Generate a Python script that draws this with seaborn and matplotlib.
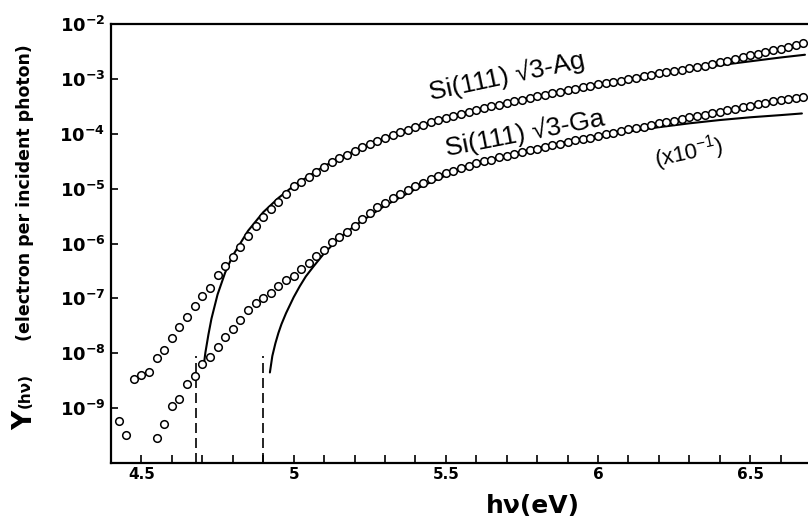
import numpy as np
import pandas as pd
import matplotlib
matplotlib.use("Agg")
import matplotlib.pyplot as plt
from matplotlib.ticker import FixedLocator, MultipleLocator, NullFormatter
import seaborn as sns

# photon energy grid of the measurements (eV)
ag_energy = [4.425, 4.45, 4.475, 4.5, 4.525, 4.55, 4.575, 4.6, 4.625, 4.65,
             4.675, 4.7, 4.725, 4.75, 4.775, 4.8, 4.825, 4.85, 4.875, 4.9,
             4.925, 4.95, 4.975, 5.0, 5.025, 5.05, 5.075, 5.1, 5.125, 5.15,
             5.175, 5.2, 5.225, 5.25, 5.275, 5.3, 5.325, 5.35, 5.375, 5.4,
             5.425, 5.45, 5.475, 5.5, 5.525, 5.55, 5.575, 5.6, 5.625, 5.65,
             5.675, 5.7, 5.725, 5.75, 5.775, 5.8, 5.825, 5.85, 5.875, 5.9,
             5.925, 5.95, 5.975, 6.0, 6.025, 6.05, 6.075, 6.1, 6.125, 6.15,
             6.175, 6.2, 6.225, 6.25, 6.275, 6.3, 6.325, 6.35, 6.375, 6.4,
             6.425, 6.45, 6.475, 6.5, 6.525, 6.55, 6.575, 6.6, 6.625, 6.65,
             6.675]
# log10 of yield, Si(111)√3-Ag
ag_log_yield = [-9.23, -9.49, -8.47, -8.40, -8.34, -8.08, -7.94, -7.72, -7.52, -7.34,
                -7.14, -6.95, -6.81, -6.58, -6.41, -6.24, -6.07, -5.87, -5.68, -5.52,
                -5.37, -5.25, -5.10, -4.96, -4.88, -4.78, -4.69, -4.60, -4.52, -4.45,
                -4.38, -4.31, -4.25, -4.19, -4.13, -4.08, -4.02, -3.97, -3.93, -3.88,
                -3.84, -3.79, -3.75, -3.71, -3.67, -3.64, -3.60, -3.57, -3.53, -3.50,
                -3.47, -3.44, -3.41, -3.38, -3.35, -3.32, -3.29, -3.26, -3.23, -3.21,
                -3.18, -3.15, -3.13, -3.10, -3.08, -3.05, -3.03, -3.00, -2.98, -2.95,
                -2.93, -2.90, -2.88, -2.86, -2.83, -2.81, -2.78, -2.76, -2.73, -2.70,
                -2.67, -2.64, -2.61, -2.57, -2.54, -2.51, -2.48, -2.45, -2.42, -2.38,
                -2.35]

ga_energy = [4.55, 4.575, 4.6, 4.625, 4.65, 4.675, 4.7, 4.725, 4.75, 4.775,
             4.8, 4.825, 4.85, 4.875, 4.9, 4.925, 4.95, 4.975, 5.0, 5.025,
             5.05, 5.075, 5.1, 5.125, 5.15, 5.175, 5.2, 5.225, 5.25, 5.275,
             5.3, 5.325, 5.35, 5.375, 5.4, 5.425, 5.45, 5.475, 5.5, 5.525,
             5.55, 5.575, 5.6, 5.625, 5.65, 5.675, 5.7, 5.725, 5.75, 5.775,
             5.8, 5.825, 5.85, 5.875, 5.9, 5.925, 5.95, 5.975, 6.0, 6.025,
             6.05, 6.075, 6.1, 6.125, 6.15, 6.175, 6.2, 6.225, 6.25, 6.275,
             6.3, 6.325, 6.35, 6.375, 6.4, 6.425, 6.45, 6.475, 6.5, 6.525,
             6.55, 6.575, 6.6, 6.625, 6.65, 6.675]
# log10 of yield, Si(111)√3-Ga (plotted x10^-1)
ga_log_yield = [-9.55, -9.29, -8.96, -8.83, -8.56, -8.42, -8.20, -8.06, -7.88, -7.70,
                -7.56, -7.39, -7.22, -7.09, -7.00, -6.91, -6.77, -6.66, -6.59, -6.47,
                -6.35, -6.22, -6.12, -5.98, -5.88, -5.79, -5.68, -5.55, -5.44, -5.34,
                -5.26, -5.17, -5.09, -5.02, -4.96, -4.90, -4.83, -4.77, -4.72, -4.67,
                -4.63, -4.58, -4.54, -4.50, -4.47, -4.43, -4.40, -4.36, -4.33, -4.30,
                -4.27, -4.24, -4.21, -4.18, -4.15, -4.12, -4.09, -4.07, -4.04, -4.01,
                -3.98, -3.95, -3.92, -3.90, -3.87, -3.84, -3.81, -3.78, -3.76, -3.73,
                -3.70, -3.68, -3.65, -3.62, -3.60, -3.57, -3.54, -3.52, -3.49, -3.46,
                -3.44, -3.41, -3.39, -3.37, -3.35, -3.33]

# fitted curves (solid lines)
ag_fit_energy = [4.704, 4.71, 4.72, 4.73, 4.75, 4.775, 4.8, 4.85, 4.9, 4.95, 5.0,
                 5.1, 5.2, 5.3, 5.4, 5.5, 5.6, 5.8, 6.0, 6.2, 6.4, 6.6, 6.68]
ag_fit_log = [-8.25, -7.99, -7.66, -7.37, -6.93, -6.53, -6.22, -5.77, -5.43, -5.17, -4.95,
              -4.59, -4.31, -4.08, -3.89, -3.72, -3.57, -3.31, -3.10, -2.91, -2.75, -2.61, -2.56]
ga_fit_energy = [4.922, 4.93, 4.94, 4.95, 4.96, 4.975, 5.0, 5.02, 5.04, 5.065, 5.1,
                 5.15, 5.2, 5.3, 5.4, 5.5, 5.6, 5.7, 5.8, 5.9, 6.0, 6.1, 6.2, 6.3,
                 6.4, 6.5, 6.6, 6.67]
ga_fit_log = [-8.35, -8.05, -7.82, -7.63, -7.47, -7.27, -6.98, -6.78, -6.60, -6.42, -6.18,
              -5.90, -5.68, -5.31, -5.01, -4.76, -4.56, -4.40, -4.26, -4.14, -4.05, -3.96,
              -3.88, -3.81, -3.75, -3.70, -3.66, -3.63]

# threshold energies (dashed markers)
thresholds = [4.68, 4.90]

data = pd.concat([
    pd.DataFrame({'E': ag_energy, 'Y': np.power(10.0, ag_log_yield), 'sample': 'Ag'}),
    pd.DataFrame({'E': ga_energy, 'Y': np.power(10.0, ga_log_yield), 'sample': 'Ga'}),
])
fits = pd.concat([
    pd.DataFrame({'E': ag_fit_energy, 'Y': np.power(10.0, ag_fit_log), 'sample': 'Ag'}),
    pd.DataFrame({'E': ga_fit_energy, 'Y': np.power(10.0, ga_fit_log), 'sample': 'Ga'}),
])

sns.set_style('ticks')
plt.rcParams['font.family'] = ['DejaVu Sans']
plt.rcParams['text.color'] = 'black'
plt.rcParams['axes.labelcolor'] = 'black'
plt.rcParams['xtick.color'] = 'black'
plt.rcParams['ytick.color'] = 'black'

fig = plt.figure(figsize=(8.08, 5.21), dpi=100)
ax = fig.add_axes([0.1374, 0.1113, 0.8626, 0.8426])

sns.lineplot(data=fits, x='E', y='Y', units='sample', estimator=None,
             color='black', linewidth=1.5, ax=ax, legend=False)
sns.scatterplot(data=data, x='E', y='Y', marker='o', s=30, color='white',
                edgecolor='black', linewidth=1.1, ax=ax, legend=False, zorder=3)

for e in thresholds:
    ax.plot([e, e], [1e-10, 8.9e-9], color='black', lw=1.2, ls=(0, (6, 3)))

ax.set_yscale('log')
ax.set_xlim(4.40, 6.69)
ax.set_ylim(1e-10, 1e-2)

ax.yaxis.set_major_locator(FixedLocator([10.0 ** k for k in range(-9, -1)]))
ax.set_yticklabels([r'$\mathbf{10^{%d}}$' % k for k in range(-9, -1)])
ax.yaxis.set_minor_formatter(NullFormatter())
ax.yaxis.set_minor_locator(FixedLocator([]))
ax.xaxis.set_major_locator(FixedLocator([4.5, 5.0, 5.5, 6.0, 6.5]))
ax.set_xticklabels(['4.5', '5', '5.5', '6', '6.5'])
ax.xaxis.set_minor_locator(MultipleLocator(0.1))

ax.tick_params(axis='both', which='both', direction='in', width=1.2, color='black',
               labelcolor='black')
ax.tick_params(axis='x', which='both', length=6, pad=3, labelsize=11)
ax.tick_params(axis='y', which='major', length=5, pad=4, labelsize=13)
for lab in ax.get_xticklabels():
    lab.set_fontweight('bold')

for side in ['left', 'bottom', 'top']:
    ax.spines[side].set_linewidth(1.6)
    ax.spines[side].set_color('black')
ax.spines['right'].set_visible(False)

ax.set_xlabel('')
ax.set_ylabel('')

# curve labels
ax.text(5.70, 10 ** -2.95, 'Si(111) \u221a3-Ag', fontsize=19, rotation=12,
        ha='center', va='center', family='Liberation Sans', color='black')
ax.text(5.76, 10 ** -3.98, 'Si(111) \u221a3-Ga', fontsize=19, rotation=11,
        ha='center', va='center', family='Liberation Sans', color='black')
ax.text(6.30, 10 ** -4.35, r'(x10$^{\mathregular{-1}}$)', fontsize=16, rotation=12,
        ha='center', va='center', family='Liberation Sans', color='black')

# axis titles
fig.text(533 / 808, 1 - 506 / 521, 'h\u03bd(eV)', fontsize=18, fontweight='bold',
         ha='center', va='center')
fig.text(25 / 808, 1 - 420 / 521, 'Y', fontsize=19, fontweight='bold',
         rotation=90, ha='center', va='center')
fig.text(25 / 808, 1 - 390 / 521, '(h\u03bd)', fontsize=11, fontweight='bold',
         rotation=90, ha='center', va='center')
fig.text(25 / 808, 1 - 193 / 521, '(electron per incident photon)', fontsize=12.5,
         fontweight='bold', rotation=90, ha='center', va='center')

fig.savefig('out.png', dpi=100)
